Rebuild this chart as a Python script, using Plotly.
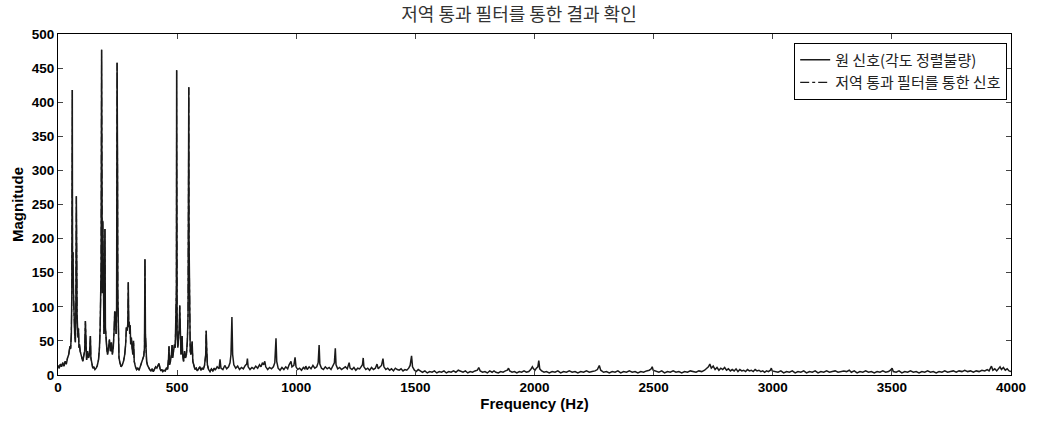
import plotly.graph_objects as go

# ---- data (frequency in Hz, magnitude) ----
low_freq = [0, 5, 10, 15, 20, 25, 30, 35, 40, 45, 50, 53, 56, 58, 60, 61, 62, 63, 65, 67, 70, 73, 75, 77, 78, 79, 80, 82, 84, 86, 88, 90, 93, 96, 100, 104, 108, 112, 115, 117, 120, 124, 128, 132, 136, 138, 142, 146, 150, 155, 160, 165, 170, 174, 177, 179, 181, 183, 184, 186, 188, 190, 193, 195, 197, 199, 202, 205, 208, 212, 216, 220, 224, 228, 232, 236, 238, 241, 244, 246, 248, 249, 250, 251, 253, 256, 260, 265, 270, 275, 280, 284, 287, 290, 293, 295, 297, 299, 301, 303, 305, 308, 311, 314, 317, 320, 325, 330, 335, 340, 345, 350, 355, 360, 363, 365, 366, 367, 369, 372, 376, 380, 385, 390, 395, 400, 405, 410, 415, 420, 424, 428, 432, 436, 440, 445, 450, 455, 460, 464, 466, 468, 472, 476, 479, 481, 485, 489, 492, 495, 497, 498, 499, 500, 503, 506, 509, 511, 513, 516, 519, 521, 523, 527, 531, 535, 539, 543, 546, 548, 549, 550, 552, 555, 558, 560, 563, 566, 570, 575, 580, 585, 590, 595, 600, 605, 610, 615, 620, 622, 624, 627, 632, 638, 644, 650, 656]
low_mag = [14, 10, 16, 12, 18, 13, 20, 16, 25, 30, 42, 38, 60, 120, 418, 150, 316, 180, 120, 90, 60, 48, 100, 262, 140, 210, 90, 70, 55, 68, 40, 45, 35, 30, 25, 20, 28, 35, 79, 30, 22, 35, 25, 30, 57, 25, 15, 10, 12, 8, 10, 14, 22, 40, 70, 130, 160, 477, 200, 120, 226, 90, 60, 80, 214, 70, 45, 38, 30, 42, 52, 35, 48, 30, 40, 70, 93, 90, 60, 100, 458, 200, 294, 120, 50, 25, 18, 12, 15, 20, 30, 45, 70, 65, 75, 136, 70, 78, 60, 73, 45, 55, 40, 30, 50, 20, 12, 8, 10, 7, 12, 18, 22, 28, 40, 170, 120, 60, 30, 20, 14, 10, 8, 6, 9, 5, 8, 12, 10, 14, 17, 10, 6, 8, 5, 7, 6, 10, 8, 25, 42, 15, 20, 30, 44, 25, 35, 45, 40, 80, 125, 447, 200, 60, 40, 50, 70, 102, 40, 30, 40, 57, 30, 20, 35, 25, 30, 50, 90, 280, 422, 200, 60, 35, 30, 48, 49, 20, 12, 8, 10, 6, 9, 12, 7, 10, 8, 14, 30, 65, 40, 15, 8, 5, 9, 6, 10]

mid_freq = [660, 668, 676, 680, 684, 692, 700, 708, 716, 722, 726, 730, 733, 738, 746, 754, 762, 770, 778, 786, 792, 795, 798, 806, 814, 822, 830, 838, 846, 852, 858, 863, 868, 872, 880, 888, 896, 904, 910, 915, 918, 924, 932, 940, 948, 956, 964, 970, 978, 982, 990, 995, 999, 1006, 1014, 1022, 1030, 1036, 1040, 1046, 1054, 1062, 1070, 1078, 1086, 1092, 1096, 1099, 1106, 1114, 1122, 1130, 1138, 1146, 1154, 1160, 1164, 1167, 1174, 1182, 1190, 1198, 1206, 1214, 1218, 1222, 1226, 1234, 1242, 1250, 1258, 1266, 1272, 1278, 1281, 1284, 1292, 1300, 1308, 1316, 1324, 1332, 1339, 1344, 1352, 1358, 1364, 1368, 1376, 1384, 1392, 1400, 1408, 1416, 1424, 1432, 1440, 1448, 1456, 1464, 1472, 1478, 1484, 1488, 1496, 1504, 1512, 1520, 1530, 1540, 1550, 1560, 1570, 1580, 1590, 1600, 1610, 1620, 1630, 1640, 1650, 1660, 1670, 1680, 1690, 1700, 1710, 1720, 1730, 1740, 1750, 1760, 1766, 1772, 1782, 1792, 1802, 1812, 1822, 1830, 1838, 1848, 1858, 1868, 1878, 1886, 1891, 1896, 1906, 1916, 1926, 1936, 1946, 1956, 1966, 1976, 1984, 1991, 1996, 2002, 2008, 2014, 2018, 2022, 2030, 2040]
mid_mag = [7, 12, 9, 23, 10, 8, 14, 9, 12, 18, 30, 85, 30, 15, 10, 13, 8, 11, 9, 14, 16, 24, 12, 8, 11, 9, 13, 10, 15, 12, 18, 15, 20, 12, 8, 11, 9, 12, 18, 54, 20, 10, 7, 11, 8, 12, 9, 15, 20, 12, 14, 26, 12, 8, 10, 7, 11, 9, 13, 8, 12, 9, 14, 10, 12, 18, 44, 16, 10, 8, 12, 9, 11, 8, 13, 18, 39, 15, 9, 11, 8, 10, 12, 9, 14, 18, 10, 8, 11, 7, 10, 9, 12, 15, 25, 12, 8, 10, 7, 11, 8, 10, 16, 9, 12, 14, 24, 12, 8, 10, 7, 9, 6, 10, 8, 7, 9, 6, 8, 7, 10, 14, 28, 12, 7, 5, 8, 6, 4, 6, 3, 5, 4, 6, 3, 5, 4, 6, 3, 5, 4, 6, 4, 7, 5, 4, 6, 3, 5, 4, 6, 7, 11, 6, 4, 5, 3, 6, 4, 6, 4, 3, 5, 4, 6, 7, 10, 6, 4, 5, 3, 5, 4, 6, 4, 5, 8, 12, 9, 7, 10, 12, 21, 9, 6, 4]

high_freq = [2050, 2062, 2074, 2086, 2098, 2110, 2122, 2134, 2146, 2158, 2170, 2182, 2194, 2206, 2218, 2230, 2242, 2254, 2264, 2272, 2278, 2290, 2302, 2314, 2326, 2338, 2350, 2362, 2374, 2386, 2398, 2410, 2422, 2434, 2446, 2458, 2470, 2482, 2490, 2494, 2498, 2510, 2522, 2534, 2546, 2558, 2570, 2582, 2594, 2606, 2618, 2630, 2642, 2654, 2666, 2678, 2690, 2702, 2714, 2722, 2730, 2736, 2742, 2750, 2758, 2766, 2774, 2782, 2790, 2798, 2806, 2814, 2822, 2830, 2838, 2846, 2854, 2862, 2870, 2878, 2886, 2894, 2902, 2910, 2918, 2926, 2934, 2942, 2950, 2958, 2966, 2974, 2982, 2990, 2994, 2998, 3010, 3022, 3034, 3046, 3058, 3070, 3082, 3094, 3106, 3118, 3130, 3142, 3154, 3166, 3178, 3190, 3202, 3214, 3226, 3238, 3250, 3262, 3274, 3286, 3298, 3310, 3321, 3330, 3342, 3354, 3366, 3378, 3390, 3402, 3414, 3426, 3438, 3450, 3462, 3474, 3486, 3494, 3501, 3506, 3518, 3530, 3542, 3554, 3566, 3578, 3590, 3602, 3614, 3626, 3638, 3650, 3662, 3674, 3686, 3698, 3710, 3722, 3734, 3746, 3758, 3770, 3782, 3794, 3806, 3818, 3830, 3842, 3854, 3866, 3878, 3890, 3900, 3908, 3914, 3918, 3924, 3932, 3940, 3948, 3954, 3960, 3968, 3976, 3984, 3992, 4000]
high_mag = [5, 3, 5, 4, 6, 3, 5, 4, 6, 4, 5, 3, 5, 4, 6, 4, 5, 6, 8, 14, 7, 4, 5, 3, 5, 4, 6, 3, 5, 4, 6, 4, 5, 3, 5, 4, 6, 7, 9, 12, 7, 5, 4, 6, 3, 5, 4, 6, 4, 5, 3, 5, 4, 6, 5, 4, 6, 5, 7, 9, 12, 16, 10, 13, 8, 11, 7, 10, 8, 11, 7, 9, 6, 8, 6, 9, 5, 8, 6, 7, 5, 8, 6, 7, 5, 8, 6, 7, 5, 6, 4, 6, 5, 7, 10, 6, 5, 4, 6, 3, 5, 4, 6, 3, 5, 4, 6, 3, 5, 4, 6, 3, 5, 4, 6, 4, 5, 6, 4, 5, 6, 5, 7, 4, 6, 3, 5, 4, 6, 4, 5, 3, 5, 4, 6, 4, 5, 7, 10, 5, 4, 6, 3, 5, 4, 6, 4, 5, 3, 5, 4, 6, 4, 5, 3, 5, 4, 6, 4, 5, 6, 4, 6, 5, 7, 5, 6, 4, 6, 5, 7, 6, 8, 6, 10, 13, 7, 9, 6, 10, 12, 8, 11, 7, 9, 6, 5]

x_ticks = [0, 500, 1000, 1500, 2000, 2500, 3000, 3500, 4000]
y_ticks = [0, 50, 100, 150, 200, 250, 300, 350, 400, 450, 500]

title_text = "저역 통과 필터를 통한 결과 확인"
name_orig = "원 신호(각도 정렬불량)"
name_filt = "저역 통과 필터를 통한 신호"

orig_f = low_freq + mid_freq + high_freq
orig_m = low_mag + mid_mag + high_mag

fig = go.Figure()
fig.add_trace(go.Scatter(x=orig_f, y=orig_m, mode="lines", name=name_orig,
                         line=dict(color="#1a1a1a", width=1.5)))
fig.add_trace(go.Scatter(x=low_freq, y=low_mag, mode="lines", name=name_filt,
                         line=dict(color="#1a1a1a", width=1.2, dash="dashdot")))

cjk = "Noto Sans CJK KR"
tickfont = dict(family="Liberation Sans, Arial", size=13.5, color="black", weight="bold")
fig.update_layout(
    width=1038, height=422,
    margin=dict(l=58, r=18, t=34, b=41),
    paper_bgcolor="white", plot_bgcolor="white",
    title=dict(text=title_text, x=0.5, xanchor="center", y=0.965, yanchor="middle",
               font=dict(family=cjk, size=18, color="#333333")),
    showlegend=True,
    legend=dict(x=0.996, y=0.975, xanchor="right", yanchor="top",
                bordercolor="black", borderwidth=1, bgcolor="white",
                font=dict(family=cjk, size=15, color="#222222"),
                tracegroupgap=0, itemwidth=30),
    xaxis=dict(range=[0, 4000], tickvals=x_ticks, ticks="inside", ticklen=5,
               showline=True, linecolor="black", linewidth=1, mirror="ticks",
               showgrid=False, zeroline=False, tickfont=tickfont,
               title=dict(text="Frequency (Hz)", standoff=4,
                          font=dict(family="Liberation Sans, Arial", size=15, color="black", weight="bold"))),
    yaxis=dict(range=[0, 500], tickvals=y_ticks, ticks="inside", ticklen=5,
               showline=True, linecolor="black", linewidth=1, mirror="ticks",
               showgrid=False, zeroline=False, tickfont=tickfont,
               title=dict(text="Magnitude", standoff=4,
                          font=dict(family="Liberation Sans, Arial", size=15, color="black", weight="bold"))),
)

fig.write_html("out.html")
